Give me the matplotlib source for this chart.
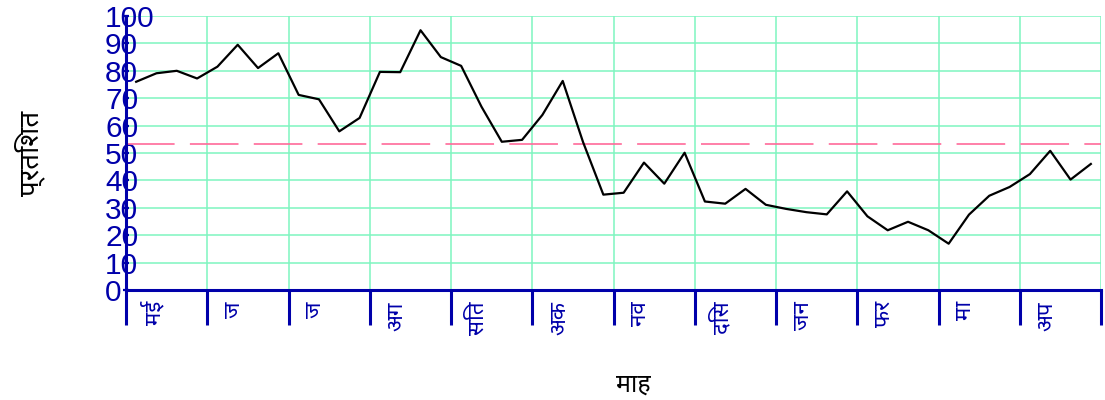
import numpy as np
import matplotlib
matplotlib.use('Agg')
import matplotlib.pyplot as plt

# weekly percentage values, May .. April
values = [76.0, 79.1, 80.0, 77.2, 81.5, 89.5, 81.0, 86.4,
          71.2, 69.6, 57.9, 62.8, 79.6, 79.5, 94.8, 85.0,
          81.8, 66.9, 54.1, 54.8, 63.9, 76.3, 54.0, 34.8,
          35.5, 46.5, 38.8, 50.1, 32.3, 31.5, 36.9, 31.1,
          29.6, 28.4, 27.6, 36.0, 26.9, 21.8, 24.9, 21.8,
          16.9, 27.5, 34.4, 37.6, 42.3, 50.8, 40.3, 46.0]
months = ['मई', 'ज', 'ज', 'अग', 'सित', 'अक', 'नव', 'दिस', 'जन', 'फर', 'मा', 'अप']
yticks = [0, 10, 20, 30, 40, 50, 60, 70, 80, 90, 100]
weeks_per_month = 4

plt.rcParams['font.family'] = ['Noto Sans', 'Liberation Sans', 'DejaVu Sans']
plt.rcParams['lines.scale_dashes'] = False

blue = '#0000aa'
grid_col = '#7ff5c0'

fig = plt.figure(figsize=(11.05, 4.0), dpi=100)
ax = fig.add_axes([126 / 1105, 110 / 400, 975 / 1105, 274 / 400])

x = np.arange(len(values)) + 0.5
ax.plot(x, values, color='black', lw=1.6, zorder=3)
ax.axhline(np.mean(values), color='#ff6a9a', lw=1.2, dashes=(35, 11), zorder=2)

ax.set_xlim(0, len(values))
ax.set_ylim(0, 100)

month_starts = np.arange(len(months) + 1) * weeks_per_month
ax.set_xticks(month_starts)
ax.set_xticklabels([''] * len(month_starts))
ax.set_xticks(np.arange(len(months)) * weeks_per_month + 1.35, minor=True)
ax.set_xticklabels(months, minor=True, rotation=90, va='top', ha='center',
                   color=blue, fontsize=16)
ax.tick_params(axis='x', which='major', direction='out', length=25, width=2.2, color=blue)
ax.tick_params(axis='x', which='minor', length=0, pad=8)

ax.set_yticks(yticks)
ax.set_yticklabels([str(v) for v in yticks], ha='left', color=blue,
                   fontsize=21.5, family='Liberation Sans')
ax.tick_params(axis='y', direction='inout', length=4.3, width=1.6, color=blue, pad=12.9)

ax.grid(True, which='major', color=grid_col, lw=1.1, zorder=0)
ax.set_axisbelow(True)

for side in ['top', 'right']:
    ax.spines[side].set_visible(False)
for side in ['left', 'bottom']:
    ax.spines[side].set_color(blue)
    ax.spines[side].set_linewidth(2.2)

fig.text(30 / 1105, 1 - 153 / 400, 'प्रतिशत', rotation=90, ha='center', va='center',
         fontsize=20, color='black')
fig.text(633 / 1105, 1 - 385 / 400, 'माह', ha='center', va='center',
         fontsize=18, color='black')

fig.savefig('out.png', dpi=100)
